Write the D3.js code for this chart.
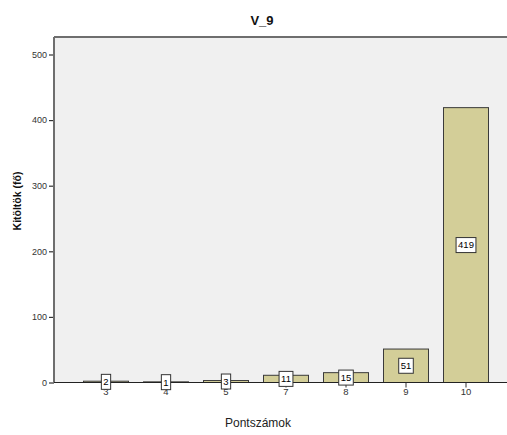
<!DOCTYPE html>
<html>
<head>
<meta charset="utf-8">
<script src="https://cdn.jsdelivr.net/npm/d3@7"></script>
<style>
  html, body { margin: 0; padding: 0; background: #fff; }
  svg { display: block; font-family: "Liberation Sans", Arial, sans-serif; }
</style>
</head>
<body>
<script>
const categories = ["3", "4", "5", "7", "8", "9", "10"];
const values = [2, 1, 3, 11, 15, 51, 419];
const yTicks = [0, 100, 200, 300, 400, 500];
const title = "V_9";
const xTitle = "Pontszámok";
const yTitle = "Kitöltök (fő)";

const W = 507, H = 435;
const plotLeft = 54, plotTop = 37, plotBottom = 383;

const svg = d3.select("body").append("svg").attr("width", W).attr("height", H);

const x = d3.scaleBand().domain(categories).range([76, 496]).paddingInner(0.25).paddingOuter(0.125);
const y = d3.scaleLinear().domain([0, 500]).range([382.5, 54.5]);

// plot background
svg.append("rect").attr("x", plotLeft).attr("y", plotTop).attr("width", W - plotLeft + 10).attr("height", plotBottom - plotTop)
  .attr("fill", "#f0f0f0");
svg.append("line").attr("x1", plotLeft).attr("x2", W).attr("y1", plotTop).attr("y2", plotTop)
  .attr("stroke", "#6e6e6e").attr("stroke-width", 2);

// bars
svg.selectAll("rect.bar").data(values).enter().append("rect")
  .attr("class", "bar")
  .attr("x", (d, i) => x(categories[i]))
  .attr("y", d => y(d))
  .attr("width", x.bandwidth())
  .attr("height", d => y(0) - y(d))
  .attr("fill", "#d3ce98")
  .attr("stroke", "#3a3a3a")
  .attr("stroke-width", 1);

// y axis
const yAxis = svg.append("g").attr("transform", `translate(${plotLeft},0)`)
  .call(d3.axisLeft(y).tickValues(yTicks).tickSize(5).tickPadding(2).tickFormat(d3.format("d")));
yAxis.select(".domain").remove();
yAxis.selectAll(".tick line").attr("stroke", "#333").attr("stroke-width", 1.2);
yAxis.selectAll("text").attr("fill", "#333").style("font-size", "9px");
svg.append("line").attr("x1", plotLeft).attr("x2", plotLeft).attr("y1", plotTop).attr("y2", plotBottom)
  .attr("stroke", "#6e6e6e").attr("stroke-width", 2);

// x axis
const xAxis = svg.append("g").attr("transform", `translate(0,${y(0)})`)
  .call(d3.axisBottom(x).tickSize(5).tickPadding(1));
xAxis.select(".domain").remove();
xAxis.selectAll(".tick line").attr("stroke", "#333");
xAxis.selectAll("text").attr("fill", "#333").style("font-size", "9.5px");
svg.append("line").attr("x1", plotLeft).attr("x2", W).attr("y1", y(0)).attr("y2", y(0))
  .attr("stroke", "#222").attr("stroke-width", 1);

// data labels
const lab = svg.selectAll("g.lab").data(values).enter().append("g").attr("class", "lab")
  .attr("transform", (d, i) => `translate(${x(categories[i]) + x.bandwidth() / 2},${(y(0) + y(d)) / 2})`);
lab.each(function (d) {
  const g = d3.select(this);
  const t = g.append("text").text(d).attr("text-anchor", "middle").attr("dy", "0.35em")
    .style("font-size", "9.5px").attr("fill", "#000");
  const w = t.node().getComputedTextLength();
  g.insert("rect", "text").attr("x", -w / 2 - 2).attr("y", -7.5).attr("width", w + 4).attr("height", 15)
    .attr("fill", "#fff").attr("stroke", "#333").attr("stroke-width", 1);
});

// titles
svg.append("text").attr("x", 262).attr("y", 25).attr("text-anchor", "middle")
  .style("font-size", "13px").style("font-weight", "bold").attr("fill", "#111").text(title);
svg.append("text").attr("x", 258).attr("y", 427).attr("text-anchor", "middle")
  .style("font-size", "12px").attr("fill", "#222").text(xTitle);
svg.append("text").attr("transform", "translate(21,201) rotate(-90)").attr("text-anchor", "middle")
  .style("font-size", "10.5px").style("font-weight", "bold").attr("fill", "#111").text(yTitle);
</script>
</body>
</html>
